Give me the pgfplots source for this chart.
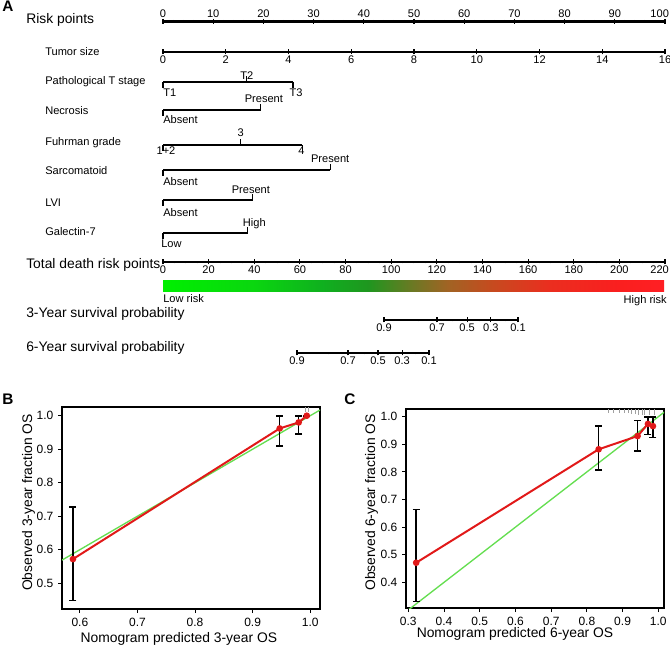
\documentclass[border=0pt]{standalone}
\usepackage{fontspec}
\setmainfont{Liberation Sans}
\usepackage{pgfplots}
\pgfplotsset{compat=1.18}
\newcommand{\fsm}{\fontsize{8.3}{10}\selectfont}
\newcommand{\flg}{\fontsize{10.4}{12.5}\selectfont}
\newcommand{\ftk}{\fontsize{9}{11}\selectfont}
\newcommand{\fpan}{\fontsize{11.5}{13}\selectfont\bfseries}
\definecolor{calred}{RGB}{225,25,25}
\definecolor{calgreen}{RGB}{100,222,80}
\definecolor{rug}{RGB}{160,160,160}
\pgfdeclarehorizontalshading{riskbar}{100bp}{rgb(0bp)=(0,.94,0); rgb(25bp)=(0,.94,0); rgb(34.1bp)=(.04,.84,.06); rgb(40.9bp)=(.06,.69,.12); rgb(45.45bp)=(.12,.59,.12); rgb(50bp)=(.43,.47,.14); rgb(53.4bp)=(.63,.39,.14); rgb(57.95bp)=(.78,.29,.12); rgb(63.6bp)=(.92,.18,.12); rgb(70.45bp)=(.98,.12,.12); rgb(75bp)=(1,.12,.14); rgb(100bp)=(1,.12,.14)}
\pgfplotsset{
  /pgf/number format/assume math mode=true,
  nomo/.style={scale only axis, width=376.5pt, height=2pt, ymin=0, ymax=1,
    axis y line=none,
    tick style={black, line width=0.8pt}, major tick length=3.75pt, minor tick length=2.2pt,
    tick align=outside, ticklabel style={font=\fsm, inner sep=1pt}},
  noarrow/.style={x axis line style={-, line width=2.2pt},
    every outer x axis line/.append style={-, line width=2.2pt},
    every inner x axis line/.append style={-, line width=2.2pt}},
  cal/.style={scale only axis, width=193.5pt, tick align=outside, xtick pos=left, ytick pos=left,
    major tick length=3pt, axis line style={line width=1.1pt}, tick style={line width=0.8pt, black},
    ticklabel style={font=\ftk, /pgf/number format/.cd, fixed, fixed zerofill, precision=1},
    label style={font=\flg}},
  ebar/.style={error bars/.cd, y dir=both, y explicit, error mark=-,
    error bar style={line width=1.2pt, black},
    error mark options={rotate=90, black, line width=1.2pt, mark size=2.6pt}},
}
\begin{document}
\begin{tikzpicture}
\path[use as bounding box] (0,0) rectangle (502.5pt,484.5pt);
% ---------- text labels of nomogram ----------
\node[anchor=base west, font=\fpan, inner sep=0pt] at (1.5pt,475.5pt) {A};
\node[anchor=base west, font=\flg, inner sep=0pt] at (19.5pt,466.5pt) {Risk points};
\node[anchor=base west, font=\fsm, inner sep=0pt] at (33.75pt,442.5pt) {Tumor size};
\node[anchor=base west, font=\fsm, inner sep=0pt] at (33.75pt,420.75pt) {Pathological T stage};
\node[anchor=base west, font=\fsm, inner sep=0pt] at (33.75pt,398.25pt) {Necrosis};
\node[anchor=base west, font=\fsm, inner sep=0pt] at (33.75pt,375pt) {Fuhrman grade};
\node[anchor=base west, font=\fsm, inner sep=0pt] at (33.75pt,353.25pt) {Sarcomatoid};
\node[anchor=base west, font=\fsm, inner sep=0pt] at (33.75pt,329.25pt) {LVI};
\node[anchor=base west, font=\fsm, inner sep=0pt] at (33.75pt,307.5pt) {Galectin-7};
\node[anchor=base west, font=\flg, inner sep=0pt] at (19.5pt,282.75pt) {Total death risk points};
\node[anchor=base west, font=\fsm, inner sep=0pt] at (122.25pt,257.25pt) {Low risk};
\node[anchor=base east, font=\fsm, inner sep=0pt] at (500.25pt,256.5pt) {High risk};
\node[anchor=base west, font=\flg, inner sep=0pt] at (19.5pt,246pt) {3-Year survival probability};
\node[anchor=base west, font=\flg, inner sep=0pt] at (19.5pt,220.5pt) {6-Year survival probability};
\node[anchor=base west, font=\fpan, inner sep=0pt] at (1.5pt,180.75pt) {B};
\node[anchor=base west, font=\fpan, inner sep=0pt] at (258pt,180.75pt) {C};
% ---------- numeric scales ----------
\begin{axis}[nomo, at={(122.25pt,468.4pt)}, anchor=north west, axis x line=top, noarrow,
  xmin=0, xmax=100, xtick={0,10,...,100}, minor x tick num=4,
  xticklabels={0,10,20,30,40,50,60,70,80,90,{100\kern8pt}}]
\end{axis}
\begin{axis}[nomo, at={(122.25pt,445.5pt)}, anchor=south west, axis x line=bottom, noarrow,
  xmin=0, xmax=16, xtick distance=2]
\end{axis}
\begin{axis}[nomo, at={(122.25pt,288pt)}, anchor=south west, axis x line=bottom, noarrow,
  xmin=0, xmax=220, xtick={0,20,...,220}, minor x tick num=3,
  xticklabels={0,20,40,60,80,100,120,140,160,180,200,{220\kern8pt}}]
\end{axis}
\begin{axis}[nomo, at={(288pt,244.5pt)}, anchor=south west, axis x line=bottom, noarrow, width=100.5pt,
  xmin=97, xmax=155.9, xtick={97,120.3,133.5,144,155.9}, xticklabels={0.9,0.7,0.5,0.3,0.1},
  minor xtick={112,127.3,138.8,150.2}]
\end{axis}
\begin{axis}[nomo, at={(222.75pt,219.75pt)}, anchor=south west, axis x line=bottom, noarrow, width=99pt,
  xmin=58.8, xmax=116.8, xtick={58.8,81.2,94.4,105,116.8}, xticklabels={0.9,0.7,0.5,0.3,0.1},
  minor xtick={72.5,88.3,99.7,111.1}]
\end{axis}
% ---------- risk colour bar ----------
\begin{axis}[at={(122.25pt,265.5pt)}, anchor=south west, scale only axis, width=375.75pt, height=8.25pt,
  xmin=0, xmax=220, ymin=0, ymax=1, hide axis]
\addplot[draw=none, shade, shading=riskbar] coordinates {(0,1)(220,1)} \closedcycle;
\end{axis}
% ---------- categorical rows (x in points, y in pixel rows) ----------
\begin{axis}[at={(122.25pt,0pt)}, anchor=south west, scale only axis, width=376.5pt, height=484.5pt,
  xmin=0, xmax=100, ymin=0, ymax=646, y dir=reverse, hide axis, clip=false]
\addplot[black, line width=2.2pt, unbounded coords=jump] coordinates {
 (0,82)(25.9,82) (0,nan) (0,110)(19.5,110) (0,nan) (0,145)(27.7,145) (0,nan)
 (0,170)(33.3,170) (0,nan) (0,200)(17.9,200) (0,nan) (0,233)(16.9,233)};
\addplot[black, line width=0.8pt, unbounded coords=jump] coordinates {
 (0,82)(0,88) (0,nan) (16.7,82)(16.7,76) (0,nan) (25.9,82)(25.9,88) (0,nan)
 (0,110)(0,116) (0,nan) (19.5,110)(19.5,104) (0,nan)
 (0,145)(0,151) (0,nan) (15.5,145)(15.5,139) (0,nan) (27.7,145)(27.7,151) (0,nan)
 (0,170)(0,176) (0,nan) (33.3,170)(33.3,164) (0,nan)
 (0,200)(0,206) (0,nan) (17.9,200)(17.9,194) (0,nan)
 (0,233)(0,239) (0,nan) (16.9,233)(16.9,227)};
\addplot[only marks, mark=none, nodes near coords, point meta=explicit symbolic,
  every node near coord/.append style={font=\fsm, anchor=base, inner sep=0pt}] table[meta=lab] {
x y lab
16.7 80 T2
26.5 97 T3
20.1 103 Present
15.5 137 3
27.6 155 4
0.6 155 1+2
33.3 163 Present
17.5 194 Present
18.2 227 High
};
\addplot[only marks, mark=none, nodes near coords, point meta=explicit symbolic,
  every node near coord/.append style={font=\fsm, anchor=base west, inner sep=0pt}] table[meta=lab] {
x y lab
0 97 T1
0 124 Absent
0 186 Absent
0 217 Absent
-0.4 248 Low
};
\end{axis}
% ---------- calibration B ----------
\begin{axis}[cal, at={(46.5pt,27.75pt)}, anchor=south west, height=151.5pt,
  xmin=0.569, xmax=1.017, ymin=0.423, ymax=1.026,
  xtick={0.6,0.7,0.8,0.9,1.0}, ytick={0.5,0.6,0.7,0.8,0.9,1.0},
  xlabel={Nomogram predicted 3-year OS}, ylabel={Observed 3-year fraction OS},
  xlabel style={at={(axis description cs:0.453,-0.168)}, anchor=base},
  ylabel style={at={(axis description cs:-0.116,0.527)}, anchor=base}]
\addplot[calgreen, line width=1pt] coordinates {(0.4,0.4)(1.1,1.1)};
\addplot[rug, line width=0.4pt, unbounded coords=jump] coordinates {(0.991,1.026)(0.991,1.012) (0.991,nan) (0.996,1.026)(0.996,1.012)};
\addplot[calred, line width=1.5pt, mark=*, mark size=1.7pt, mark options={fill=calred, draw=calred}, ebar]
  coordinates {(0.588,0.572) += (0,0.155) -= (0,0.124) (0.947,0.962) += (0,0.038) -= (0,0.052)
   (0.980,0.980) += (0,0.020) -= (0,0.034) (0.994,1.0) += (0,0) -= (0,0)};
\end{axis}
% ---------- calibration C ----------
\begin{axis}[cal, at={(304.5pt,28.5pt)}, anchor=south west, height=149.25pt,
  xmin=0.2935, xmax=1.016, ymin=0.307, ymax=1.028,
  xtick={0.3,0.4,0.5,0.6,0.7,0.8,0.9,1.0}, ytick={0.4,0.5,0.6,0.7,0.8,0.9,1.0},
  xlabel={Nomogram predicted 6-year OS}, ylabel={Observed 6-year fraction OS},
  xlabel style={at={(axis description cs:0.4225,-0.146)}, anchor=base},
  ylabel style={at={(axis description cs:-0.120,0.53)}, anchor=base}]
\addplot[calgreen, line width=1pt] coordinates {(0.2,0.2)(1.1,1.1)};
\addplot[rug, line width=0.4pt, unbounded coords=jump] coordinates {
 (0.86,1.028)(0.86,1.012) (0.86,nan) (0.875,1.028)(0.875,1.012) (0.875,nan)
 (0.89,1.028)(0.89,1.012) (0.89,nan) (0.905,1.028)(0.905,1.012) (0.905,nan)
 (0.915,1.028)(0.915,1.012) (0.915,nan) (0.925,1.028)(0.925,1.010) (0.925,nan)
 (0.935,1.028)(0.935,1.010) (0.935,nan) (0.945,1.028)(0.945,1.008) (0.945,nan)
 (0.955,1.028)(0.955,1.005) (0.955,nan) (0.962,1.028)(0.962,1.005) (0.962,nan)
 (0.975,1.028)(0.975,1.005) (0.975,nan) (0.99,1.028)(0.99,1.005)};
\addplot[calred, line width=1.5pt, mark=*, mark size=1.7pt, mark options={fill=calred, draw=calred}, ebar]
  coordinates {(0.322,0.471) += (0,0.193) -= (0,0.141) (0.833,0.882) += (0,0.084) -= (0,0.075)
   (0.942,0.930) += (0,0.056) -= (0,0.054) (0.971,0.974) += (0,0.026) -= (0,0.038)
   (0.985,0.966) += (0,0.034) -= (0,0.041)};
\end{axis}
\end{tikzpicture}
\end{document}
